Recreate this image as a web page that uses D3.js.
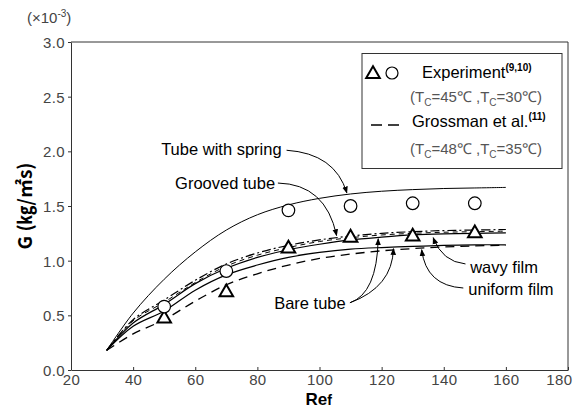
<!DOCTYPE html>
<html>
<head>
<meta charset="utf-8">
<script src="https://cdn.jsdelivr.net/npm/d3@7"></script>
<style>
  body { margin: 0; background: #fff; }
  svg { font-family: "Liberation Sans", Arial, sans-serif; }
  .tick text { fill: #444; font-size: 15px; letter-spacing: 0.4px; }
  .lbl { fill: #000; font-size: 16.5px; }
</style>
</head>
<body>
<svg id="chart"></svg>
<script>
// x values shared by all curves (Re_f)
var RE = [31.5, 40, 50, 60, 70, 80, 90, 100, 110, 120, 130, 140, 150, 160];

// curves, G x 1e-3
var SPRING   = [0.18, 0.52, 0.83, 1.08, 1.28, 1.42, 1.51, 1.57, 1.61, 1.635, 1.65, 1.66, 1.665, 1.67];
var GROOVED  = [0.18, 0.46, 0.64, 0.82, 0.97, 1.07, 1.14, 1.19, 1.225, 1.25, 1.265, 1.275, 1.28, 1.285];
var WAVY     = [0.18, 0.45, 0.62, 0.80, 0.95, 1.05, 1.12, 1.175, 1.21, 1.235, 1.25, 1.26, 1.265, 1.27];
var BARE_HI  = [0.18, 0.43, 0.60, 0.79, 0.93, 1.03, 1.10, 1.15, 1.19, 1.215, 1.235, 1.245, 1.25, 1.255];
var BARE_LO  = [0.18, 0.40, 0.54, 0.73, 0.87, 0.96, 1.03, 1.075, 1.105, 1.12, 1.13, 1.14, 1.145, 1.145];
var UNIFORM  = [0.18, 0.33, 0.46, 0.63, 0.78, 0.88, 0.96, 1.02, 1.06, 1.09, 1.11, 1.125, 1.135, 1.14];

// experiment points
var EXP_RE = [50, 70, 90, 110, 130, 150];
var EXP_TRI = [0.47, 0.71, 1.11, 1.21, 1.22, 1.25];
var EXP_CIRC = [0.58, 0.905, 1.46, 1.50, 1.525, 1.525];

var X_TICKS = [20, 40, 60, 80, 100, 120, 140, 160, 180];
var Y_TICKS = [0, 0.5, 1.0, 1.5, 2.0, 2.5, 3.0];

// annotations: text, text pos [Re, G], anchor, arrows [start, ctrl, end]
var NOTES = [
  {text: "Tube with spring", at: [87.8, 2.02], anchor: "end",
   arrows: [[[89.4, 2.01], [105, 1.98], [108.8, 1.62]]]},
  {text: "Grooved tube", at: [85.7, 1.71], anchor: "end",
   arrows: [[[86.6, 1.71], [102, 1.70], [105.5, 1.23]]]},
  {text: "Bare tube", at: [85.4, 0.61], anchor: "start",
   arrows: [[[109.8, 0.615], [118.5, 0.70], [118.9, 1.20]],
            [[109.8, 0.615], [123.5, 0.76], [123.8, 1.11]]]},
  {text: "wavy film", at: [148.5, 0.94], anchor: "start",
   arrows: [[[147.0, 0.97], [139.5, 0.99], [136.6, 1.21]]]},
  {text: "uniform film", at: [147.9, 0.74], anchor: "start",
   arrows: [[[146.3, 0.75], [134.3, 0.77], [132.9, 1.10]]]}
];

var W = 575, H = 412;
var margin = {left: 71, right: 7, top: 42, bottom: 42};

var svg = d3.select("#chart").attr("width", W).attr("height", H);

var x = d3.scaleLinear().domain([20, 180]).range([margin.left, W - margin.right]);
var y = d3.scaleLinear().domain([0, 3]).range([H - margin.bottom, margin.top]);

// axes
var xAxis = svg.append("g").attr("transform", "translate(0," + y(0) + ")")
  .call(d3.axisBottom(x).tickValues(X_TICKS).tickSizeInner(-3).tickSizeOuter(0).tickPadding(4));
var yAxis = svg.append("g").attr("transform", "translate(" + x(20) + ",0)")
  .call(d3.axisLeft(y).tickValues(Y_TICKS).tickFormat(d3.format(".1f")).tickSizeInner(3).tickSizeOuter(0).tickPadding(3));
svg.selectAll(".domain, .tick line").attr("stroke", "#333");
xAxis.selectAll(".tick text").attr("dy", "0.75em");
// last label sits inside the window edge
xAxis.selectAll(".tick text").filter(function(d) { return d === 180; })
  .attr("text-anchor", "end").attr("x", 4);
yAxis.selectAll(".tick text").attr("dy", "0.36em");

// top / right frame
svg.append("path")
  .attr("d", "M" + x(20) + "," + y(3) + "H" + x(180) + "V" + y(0))
  .attr("fill", "none").attr("stroke", "#333");

// exponent note
var ex = svg.append("text").attr("x", 27).attr("y", 23).attr("font-size", 15).attr("fill", "#444");
ex.append("tspan").text("(×10");
ex.append("tspan").attr("dy", -6).attr("font-size", 10).text("-3");
ex.append("tspan").attr("dy", 6).text(")");

// axis titles
svg.append("text")
  .attr("transform", "translate(32," + y(1.5) + ") rotate(-90)")
  .attr("text-anchor", "middle").attr("font-size", 19).attr("font-weight", "bold")
  .style("font-family", "'Noto Sans CJK KR', 'Liberation Sans', sans-serif")
  .text("G (㎏/㎡s)");
var xt = svg.append("text").attr("x", x(100) - 14).attr("y", 405)
  .attr("font-size", 17).attr("font-weight", "bold").text("Re");
xt.append("tspan").attr("font-size", 14).text("f");

// curves
var line = d3.line()
  .x(function(d) { return x(d[0]); })
  .y(function(d) { return y(d[1]); })
  .curve(d3.curveCatmullRom);

var curves = [
  {v: SPRING, dash: null, w: 1},
  {v: GROOVED, dash: "9,3,2,3", w: 1.2},
  {v: WAVY, dash: "5,4", w: 1},
  {v: BARE_HI, dash: null, w: 1.2},
  {v: BARE_LO, dash: null, w: 1.2},
  {v: UNIFORM, dash: "9,6", w: 1.3}
];
curves.forEach(function(c) {
  svg.append("path")
    .datum(RE.map(function(r, i) { return [r, c.v[i]]; }))
    .attr("d", line)
    .attr("fill", "none").attr("stroke", "#000")
    .attr("stroke-width", c.w)
    .attr("stroke-dasharray", c.dash);
});

// markers
var tri = d3.symbol().type(d3.symbolTriangle).size(80);
svg.selectAll(".tri").data(EXP_RE).enter().append("path")
  .attr("class", "tri")
  .attr("transform", function(d, i) { return "translate(" + x(d) + "," + y(EXP_TRI[i]) + ")"; })
  .attr("d", tri).attr("fill", "#fff").attr("stroke", "#000").attr("stroke-width", 2);
svg.selectAll(".circ").data(EXP_RE).enter().append("circle")
  .attr("class", "circ")
  .attr("cx", function(d) { return x(d); })
  .attr("cy", function(d, i) { return y(EXP_CIRC[i]); })
  .attr("r", 6.3).attr("fill", "#fff").attr("stroke", "#000").attr("stroke-width", 1.2);

// arrowhead
svg.append("defs").append("marker")
  .attr("id", "arr").attr("viewBox", "0 0 10 10").attr("refX", 9).attr("refY", 5)
  .attr("markerWidth", 7).attr("markerHeight", 7).attr("orient", "auto")
  .append("path").attr("d", "M0,1L10,5L0,9Z").attr("fill", "#000");

NOTES.forEach(function(n) {
  svg.append("text").attr("class", "lbl")
    .attr("x", x(n.at[0])).attr("y", y(n.at[1])).attr("dy", "0.35em")
    .attr("text-anchor", n.anchor).text(n.text);
  n.arrows.forEach(function(a) {
    var p = d3.path();
    p.moveTo(x(a[0][0]), y(a[0][1]));
    p.quadraticCurveTo(x(a[1][0]), y(a[1][1]), x(a[2][0]), y(a[2][1]));
    svg.append("path").attr("d", p.toString())
      .attr("fill", "none").attr("stroke", "#000").attr("stroke-width", 1)
      .attr("marker-end", "url(#arr)");
  });
});

// legend
var lg = svg.append("g");
lg.append("rect").attr("x", 362).attr("y", 53.5).attr("width", 200).attr("height", 115)
  .attr("fill", "#fff").attr("stroke", "#333");
lg.append("path").attr("transform", "translate(373,74)").attr("d", tri)
  .attr("fill", "#fff").attr("stroke", "#000").attr("stroke-width", 2);
lg.append("circle").attr("cx", 392).attr("cy", 73).attr("r", 6)
  .attr("fill", "#fff").attr("stroke", "#000").attr("stroke-width", 1.2);
var e1 = lg.append("text").attr("class", "lbl").attr("x", 422).attr("y", 78).text("Experiment");
e1.append("tspan").attr("font-size", 10).attr("font-weight", "bold").attr("dy", -7).text("(9,10)");
lg.append("line").attr("x1", 371).attr("x2", 401).attr("y1", 125).attr("y2", 125)
  .attr("stroke", "#000").attr("stroke-width", 1.5).attr("stroke-dasharray", "11,6");
var e2 = lg.append("text").attr("class", "lbl").attr("x", 412).attr("y", 127).text("Grossman et al.");
e2.append("tspan").attr("font-size", 10).attr("font-weight", "bold").attr("dy", -7).text("(11)");

function tempLine(yy, t1, t2) {
  var t = lg.append("text").attr("x", 410).attr("y", yy).attr("font-size", 15).attr("fill", "#555");
  t.append("tspan").text("(T");
  t.append("tspan").attr("font-size", 10).attr("dy", 4).text("C");
  t.append("tspan").attr("dy", -4).text("=" + t1 + "℃ ,T");
  t.append("tspan").attr("font-size", 10).attr("dy", 4).text("C");
  t.append("tspan").attr("dy", -4).text("=" + t2 + "℃)");
}
tempLine(102, 45, 30);
tempLine(154, 48, 35);
</script>
</body>
</html>
